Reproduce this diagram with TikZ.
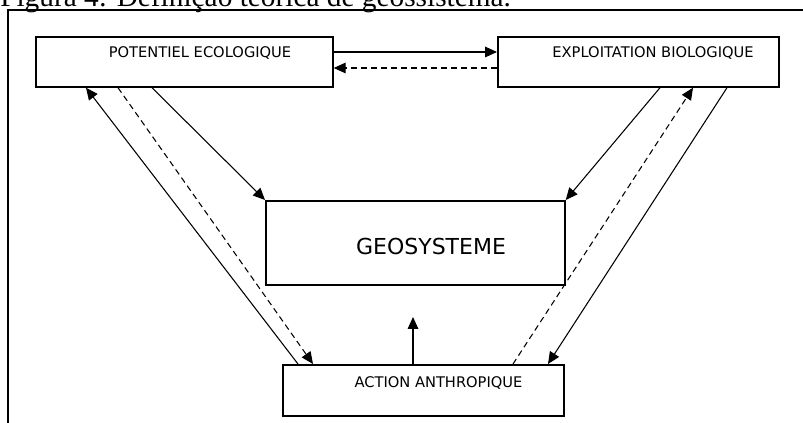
\documentclass[tikz,border=0pt]{standalone}
\usepackage{fontspec}
\setmainfont{DejaVu Sans}
\newfontfamily\capfont{Liberation Serif}
\usetikzlibrary{arrows.meta,calc}
\begin{document}
\begin{tikzpicture}[x=0.75pt,y=-0.75pt,
  box/.style={draw,line width=1.3pt,inner sep=0pt,anchor=north west},
  lbl/.style={anchor=base,inner sep=0pt,font=\fontsize{11}{13}\selectfont},
  con/.style={line width=0.8pt,-{Triangle[length=9pt,width=8pt]}},
  dcon/.style={con,dash pattern=on 4.5pt off 3pt}]
\useasboundingbox (0,0) rectangle (803,423);
\clip (0,0) rectangle (803,423);
% caption (cut at top)
\node[anchor=base west,inner sep=0pt,font=\capfont\fontsize{22}{25}\selectfont] (cap) at (0,6.5) {Figura 4: Definição teórica de geossistema.};
% frame
\draw[line width=1.5pt] (7.5,424) -- (7.5,10) -- (804,10);
% boxes
\node[box,minimum width=222.75pt,minimum height=37.5pt] (pe) at (35,36) {};
\node[box,minimum width=210.75pt,minimum height=37.5pt] (eb) at (497,36) {};
\node[box,minimum width=224.25pt,minimum height=63pt] (geo) at (265,200) {};
\node[box,minimum width=210.75pt,minimum height=38.25pt] (aa) at (282,364) {};
% labels
\node[lbl] (pet) at (200,58) {POTENTIEL ECOLOGIQUE};
\node[lbl] (ebt) at (653,58) {EXPLOITATION BIOLOGIQUE};
\node[lbl,font=\fontsize{16.5}{19}\selectfont] (geot) at (431,255) {GEOSYSTEME};
\node[lbl] (aat) at (438.5,388) {ACTION ANTHROPIQUE};
% connectors
\draw[con] ($(pe.north east)+(0,16)$) -- ($(eb.north west)+(0,16)$);
\draw[dcon] ($(eb.north west)+(0,32)$) -- ($(pe.north east)+(0,32)$);
\draw[con] ($(pe.south west)+(117,0)$) -- (geo.north west);
\draw[con] ($(aa.north west)+(16,0)$) -- ($(pe.south west)+(51,0)$);
\draw[dcon] ($(pe.south west)+(83,0)$) -- ($(aa.north west)+(31,0)$);
\draw[con] ($(eb.south west)+(163,0)$) -- (geo.north east);
\draw[dcon] ($(aa.north west)+(231,0)$) -- ($(eb.south west)+(196,0)$);
\draw[con] ($(eb.south west)+(230,0)$) -- ($(aa.north west)+(266,0)$);
\coordinate (up) at (413,317);
\draw[con] (aa.north west -| up) -- (up);
\end{tikzpicture}
\end{document}
